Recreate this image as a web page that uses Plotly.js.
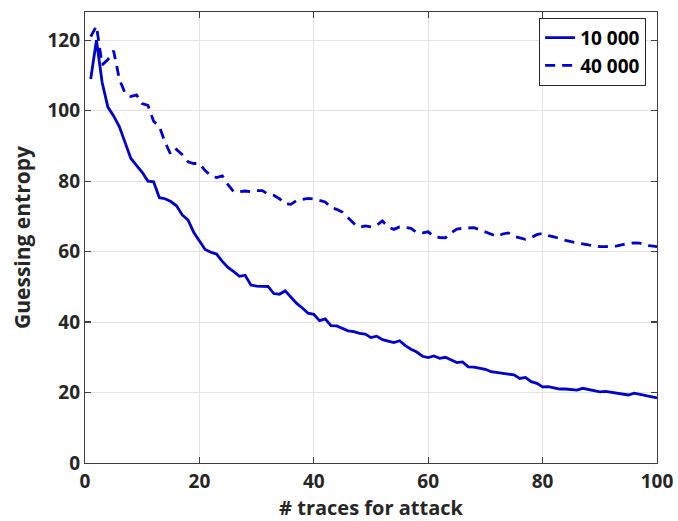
<!DOCTYPE html>
<html>
<head>
<meta charset="utf-8">
<script src="https://cdn.plot.ly/plotly-3.0.1.min.js"></script>
<style>html,body{margin:0;padding:0;background:#fff;}#chart{width:678px;height:521px;}</style>
</head>
<body>
<div id="chart"></div>
<script>
const traces = [];
for (let i = 1; i <= 100; i++) traces.push(i);

const series10000 = [
  109, 120, 108, 101, 98.5, 95.5, 91, 86.5, 84.5, 82.5,
  80, 79.8, 75.3, 75, 74.2, 73, 70.4, 69, 65.5, 63,
  60.6, 59.8, 59.3, 57.2, 55.5, 54.3, 53, 53.3, 50.5, 50.2,
  50.2, 50.1, 48.1, 47.9, 48.9, 47, 45.3, 44, 42.5, 42.2,
  40.4, 40.9, 39, 38.9, 38.3, 37.5, 37.3, 36.8, 36.6, 35.6,
  36, 35, 34.6, 34.2, 34.7, 33.3, 32.3, 31.5, 30.3, 29.9,
  30.4, 29.7, 30, 29.3, 28.5, 28.7, 27.3, 27.2, 26.9, 26.6,
  25.9, 25.6, 25.4, 25.2, 25, 24, 24.3, 23.1, 22.6, 21.6,
  21.7, 21.4, 21, 21, 20.8, 20.7, 21.2, 20.9, 20.5, 20.2,
  20.3, 20, 19.9, 19.5, 19.3, 19.8, 19.5, 19, 18.7, 18.5
];

const series40000 = [
  121, 124, 113, 114.5, 117, 109, 105, 104, 104.5, 102,
  101.5, 97, 95.5, 91, 87.5, 89, 87.5, 85.5, 85, 85,
  83, 81.5, 81, 81.5, 79, 77, 77, 77.2, 77, 77.3,
  77.3, 76.3, 76, 75, 73.6, 73.4, 74.5, 74.8, 75.1, 74.9,
  74.6, 74.1, 72.5, 72, 71.2, 69.5, 68, 66.9, 67.3, 67,
  67.5, 68.7, 67, 66.3, 67, 66.9, 66.6, 65.4, 65.3, 65.6,
  64.3, 64, 63.9, 65.3, 66.4, 66.6, 66.8, 66.8, 66.2, 65.6,
  65, 64.3, 65, 65.3, 64.3, 63.8, 63.5, 64, 64.8, 65.2,
  64.5, 64.2, 63.6, 63.2, 62.8, 62.4, 62.2, 61.9, 61.6, 61.4,
  61.4, 61.5, 61.6, 62, 62.3, 62.5, 62.4, 61.8, 61.6, 61.4
];

const seriesNames = ['10 000', '40 000'];
const xTicks = [0, 20, 40, 60, 80, 100];
const yTicks = [0, 20, 40, 60, 80, 100, 120];

const blue = 'rgb(0,0,205)';
const fontFam = '"Open Sans", "DejaVu Sans", sans-serif';

const data = [
  {x: traces, y: series10000, name: seriesNames[0], mode: 'lines', type: 'scatter',
   line: {color: blue, width: 2.8}},
  {x: traces, y: series40000, name: seriesNames[1], mode: 'lines', type: 'scatter',
   line: {color: blue, width: 2.8, dash: '10px,7px'}}
];

const axisCommon = {
  showline: true, mirror: 'allticks', linecolor: '#404040', linewidth: 1.2,
  ticks: 'inside', ticklen: 6, tickcolor: '#404040', tickwidth: 1.2,
  showgrid: true, gridcolor: '#e3e3e3', gridwidth: 1, zeroline: false,
  tickfont: {family: fontFam, size: 19, color: '#262626', weight: 'bold'}
};

const layout = {
  width: 678, height: 521,
  margin: {l: 85, r: 21, t: 12, b: 58},
  paper_bgcolor: '#fff', plot_bgcolor: '#fff',
  showlegend: true,
  legend: {
    x: 0.981, y: 0.987, xanchor: 'right', yanchor: 'top',
    bgcolor: '#fff', bordercolor: '#262626', borderwidth: 1,
    font: {family: fontFam, size: 19, color: '#000', weight: 'bold'},
    tracegroupgap: 0
  },
  xaxis: Object.assign({}, axisCommon, {
    range: [0, 100], tickvals: xTicks, ticktext: xTicks.map(String),
    ticklabelstandoff: 1,
    title: {text: '# traces for attack', standoff: 4,
            font: {family: fontFam, size: 20, color: '#262626', weight: 'bold'}}
  }),
  yaxis: Object.assign({}, axisCommon, {
    range: [0, 128], tickvals: yTicks, ticktext: yTicks.map(String),
    title: {text: 'Guessing entropy', standoff: 11,
            font: {family: fontFam, size: 21, color: '#262626', weight: 'bold'}}
  })
};

Plotly.newPlot('chart', data, layout, {displayModeBar: false, staticPlot: true});
</script>
</body>
</html>
